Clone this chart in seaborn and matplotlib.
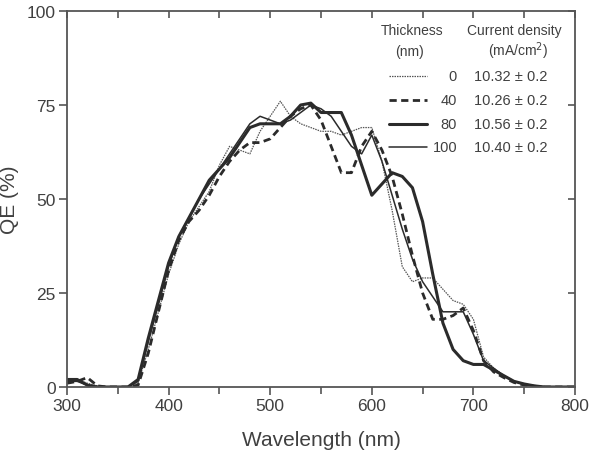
import numpy as np
import pandas as pd
import matplotlib
matplotlib.use("Agg")
import matplotlib.pyplot as plt
from matplotlib.ticker import MultipleLocator
import seaborn as sns

# ─── Data ─────────────────────────────────────────────────────────────────────
wavelength = list(range(300, 801, 10))

qe_0nm = [2, 2, 1, 0.3, 0, 0, 0, 1, 10, 20, 30, 38, 44, 48, 52, 59, 64, 63, 62, 68,
          72, 76, 72, 70, 69, 68, 68, 67, 68, 69, 69, 60, 47, 32, 28, 29, 29, 26, 23, 22,
          18, 8, 5, 3, 1.5, 0.8, 0.3, 0.1, 0, 0, 0]
qe_40nm = [1, 1.5, 2.5, 0.3, 0, 0, 0, 0.5, 9, 20, 31, 39, 44, 47, 51, 56, 60, 63, 65, 65,
           66, 69, 72, 74, 75, 71, 64, 57, 57, 64, 68, 63, 56, 46, 35, 25, 18, 18, 19, 21,
           15, 7, 4, 2.5, 1.2, 0.5, 0.2, 0, 0, 0, 0]
qe_80nm = [2, 2, 0.5, 0, 0, 0, 0, 2, 13, 23, 33, 40, 45, 50, 55, 58, 61, 65, 69, 70,
           70, 70, 72, 75, 75.5, 73, 73, 73, 67, 59, 51, 54, 57, 56, 53, 44, 30, 17, 10, 7,
           6, 6, 4.5, 3, 1.5, 0.8, 0.3, 0, 0, 0, 0]
qe_100nm = [1.5, 1.5, 0.5, 0, 0, 0, 0, 1.5, 12, 22, 32, 40, 45, 50, 54, 58, 62, 66, 70, 72,
            71, 70, 71, 73, 75, 74, 72, 68, 64, 62, 67, 60, 51, 42, 34, 28, 24, 20, 20, 20,
            14, 7, 5, 3, 1.5, 0.8, 0.3, 0, 0, 0, 0]

thickness = ["0", "40", "80", "100"]
current_density = ["10.32 \u00b1 0.2", "10.26 \u00b1 0.2", "10.56 \u00b1 0.2", "10.40 \u00b1 0.2"]

# ─── Style ────────────────────────────────────────────────────────────────────
sns.set_style("ticks")
plt.rcParams['font.family'] = ['Liberation Sans', 'DejaVu Sans']
TXT = '#404040'
LINE = '#2b2b2b'

styles = [
    dict(color='#555555', lw=0.9, ls=(0, (1.2, 0.8))),
    dict(color=LINE, lw=2.0, ls=(0, (2.6, 1.6))),
    dict(color=LINE, lw=2.2, ls='-'),
    dict(color=LINE, lw=1.1, ls='-'),
]

fig = plt.figure(figsize=(5.94, 4.52), dpi=100)
ax = fig.add_axes([67 / 594, 64 / 452, 508 / 594, 376 / 452])

series = [qe_0nm, qe_40nm, qe_80nm, qe_100nm]
for vals, st in zip(series, styles):
    df = pd.DataFrame({'wl': wavelength, 'qe': vals})
    sns.lineplot(data=df, x='wl', y='qe', ax=ax, color=st['color'],
                 linewidth=st['lw'], linestyle=st['ls'])

ax.set_xlim(300, 800)
ax.set_ylim(0, 100)
ax.xaxis.set_major_locator(MultipleLocator(100))
ax.xaxis.set_minor_locator(MultipleLocator(50))
ax.yaxis.set_major_locator(MultipleLocator(25))
ax.tick_params(axis='both', which='major', direction='out', length=6, width=1.2,
               color='#555555', labelsize=12.5, labelcolor=TXT, pad=2)
ax.tick_params(axis='x', which='minor', direction='out', length=5, width=1.2, color='#555555')
ax.set_xlabel('Wavelength (nm)', fontsize=15, color=TXT, labelpad=12)
ax.set_ylabel('QE (%)', fontsize=15, color=TXT, labelpad=6)
for sp in ax.spines.values():
    sp.set_color('#555555')
    sp.set_linewidth(1.3)

# inward ticks on top and right
top = ax.secondary_xaxis('top')
top.xaxis.set_major_locator(MultipleLocator(100))
top.xaxis.set_minor_locator(MultipleLocator(50))
top.tick_params(which='both', direction='in', length=5, width=1.2, color='#555555',
                labeltop=False)
top.spines['top'].set_visible(False)
right = ax.secondary_yaxis('right')
right.yaxis.set_major_locator(MultipleLocator(25))
right.tick_params(direction='in', length=5, width=1.2, color='#555555', labelright=False)
right.spines['right'].set_visible(False)

# ─── Legend table ─────────────────────────────────────────────────────────────
def fx(px):
    return (px - 67) / 508

def fy(py):
    return (388 - py) / 376

tr = ax.transAxes
ax.text(fx(412), fy(31), 'Thickness', transform=tr, ha='center', va='center',
        fontsize=10, color=TXT)
ax.text(fx(410), fy(52), '(nm)', transform=tr, ha='center', va='center',
        fontsize=10, color=TXT)
ax.text(fx(514), fy(31), 'Current density', transform=tr, ha='center', va='center',
        fontsize=10, color=TXT)
ax.text(fx(518), fy(51), '(mA/cm$^2$)', transform=tr, ha='center', va='center',
        fontsize=10, color=TXT)
row_y = [77, 101, 125, 148]
for py, th, cd, st in zip(row_y, thickness, current_density, styles):
    ax.plot([fx(389), fx(427)], [fy(py), fy(py)], transform=tr, color=st['color'],
            lw=st['lw'], ls=st['ls'], clip_on=False)
    ax.text(fx(457), fy(py), th, transform=tr, ha='right', va='center',
            fontsize=10.5, color=TXT)
    ax.text(fx(474), fy(py), cd, transform=tr, ha='left', va='center',
            fontsize=10.5, color=TXT)

fig.savefig('out.png', dpi=100)
